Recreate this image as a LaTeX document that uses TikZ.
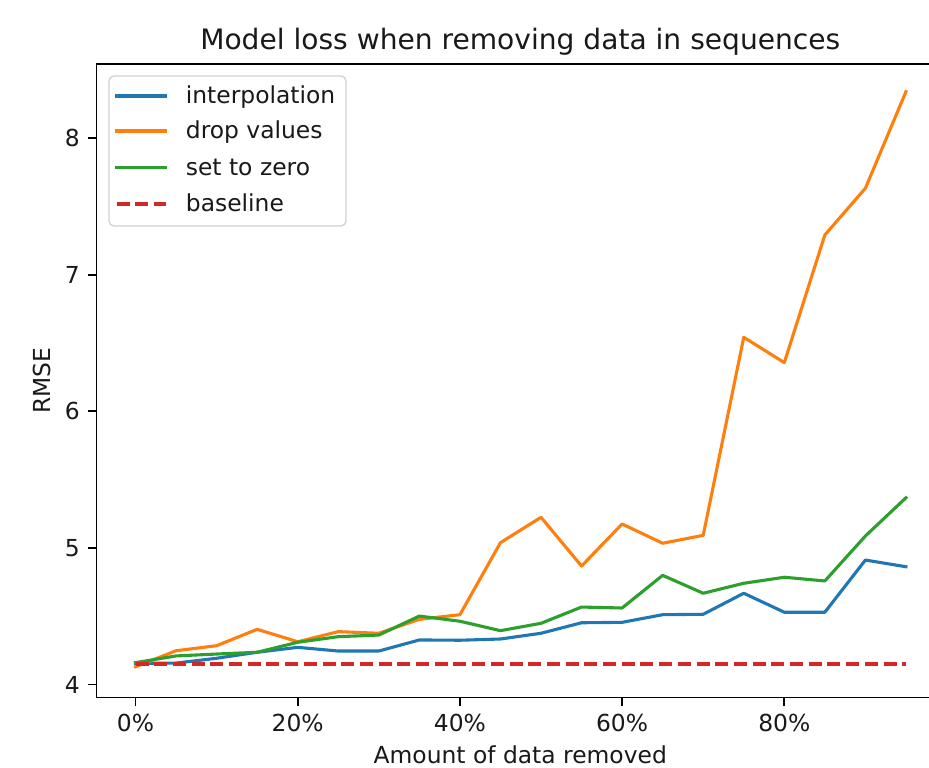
\documentclass[tikz,border=0pt]{standalone}
\usepackage{fontspec}
\setmainfont{DejaVu Sans}
\definecolor{tabblue}{HTML}{1F77B4}
\definecolor{taborange}{HTML}{FF7F0E}
\definecolor{tabgreen}{HTML}{2CA02C}
\definecolor{tabred}{HTML}{D62728}
\newcommand\labelfont{\fontsize{23.4}{28}\selectfont}
\newcommand\titlefont{\fontsize{28.1}{34}\selectfont}
\tikzset{
  spine/.style={line width=1.8pt, black, line join=miter},
  tickmark/.style={line width=1.8pt, black},
  series/.style={line width=3.1pt, line join=round, line cap=rect},
  dashedseries/.style={line width=3.1pt, dash pattern=on 13pt off 5.7pt},
  lbl/.style={inner sep=0pt, text=black!90, font=\labelfont},
  legendframe/.style={draw=black!18, line width=1.3pt, fill=white, fill opacity=0.8, rounded corners=5pt}
}
\begin{document}
\begin{tikzpicture}[x=1pt,y=1pt]
\useasboundingbox (0,0) rectangle (929,768);

% axes frame (the right edge lies beyond the page)
\draw[spine] (929,704) -- (96.5,704) -- (96.5,70.5) -- (929,70.5);

% y ticks and labels
\foreach \v in {4,...,8} {
  \draw[tickmark] (96.5,{83.5+136.6*(\v-4)}) -- ++(-8.3,0);
  \node[lbl, anchor=east] (ytick\v) at (80,{83.5+136.6*(\v-4)}) {\v};
}
% x ticks and labels
\foreach \p in {0,20,40,60,80} {
  \draw[tickmark] ({135.5+8.11*\p},70.5) -- ++(0,-8.3);
  \node[lbl, anchor=base] (xtick\p) at ({135.5+8.11*\p},36.3) {\p\%};
}

% axis titles
\node[lbl, font=\titlefont, anchor=base] (title) at (520.25,718.7) {Model loss when removing data in sequences};
\node[lbl, anchor=base] (xlabel) at (520.25,4.7) {Amount of data removed};
\node[lbl, anchor=base, rotate=90] (ylabel) at (50,387.25) {RMSE};

% data series: x in percent, y in RMSE
\begin{scope}[x=8.11pt, y=136.6pt, shift={(135.5pt,-462.9pt)}]
  \draw[series, tabblue] plot coordinates {
    (0,4.155) (5,4.157) (10,4.192) (15,4.236) (20,4.272) (25,4.245) (30,4.245)
    (35,4.326) (40,4.324) (45,4.333) (50,4.375) (55,4.452) (60,4.455) (65,4.511)
    (70,4.514) (75,4.668) (80,4.529) (85,4.529) (90,4.911) (95,4.862)};
  \draw[series, taborange] plot coordinates {
    (0,4.130) (5,4.247) (10,4.284) (15,4.404) (20,4.313) (25,4.387) (30,4.375)
    (35,4.477) (40,4.511) (45,5.038) (50,5.224) (55,4.867) (60,5.175) (65,5.034)
    (70,5.092) (75,6.542) (80,6.356) (85,7.291) (90,7.633) (95,8.340)};
  \draw[series, tabgreen] plot coordinates {
    (0,4.160) (5,4.209) (10,4.223) (15,4.236) (20,4.309) (25,4.350) (30,4.362)
    (35,4.501) (40,4.463) (45,4.394) (50,4.448) (55,4.567) (60,4.560) (65,4.799)
    (70,4.668) (75,4.741) (80,4.785) (85,4.758) (90,5.087) (95,5.367)};
  \draw[dashedseries, tabred] (0,4.150) -- (95,4.150);
\end{scope}

% legend
\draw[legendframe] (109,692) rectangle (346,542);
\draw[series, tabblue]   (116.7,672)   -- (165.7,672);
\draw[series, taborange] (116.7,637)   -- (165.7,637);
\draw[series, tabgreen]  (116.7,600.7) -- (165.7,600.7);
\draw[dashedseries, tabred] (116.7,564) -- (165.7,564);
\node[lbl, anchor=base west] (leg1) at (185.7,664)   {interpolation};
\node[lbl, anchor=base west] (leg2) at (185.7,629)   {drop values};
\node[lbl, anchor=base west] (leg3) at (185.7,592.7) {set to zero};
\node[lbl, anchor=base west] (leg4) at (185.7,556)   {baseline};
\end{tikzpicture}
\end{document}
